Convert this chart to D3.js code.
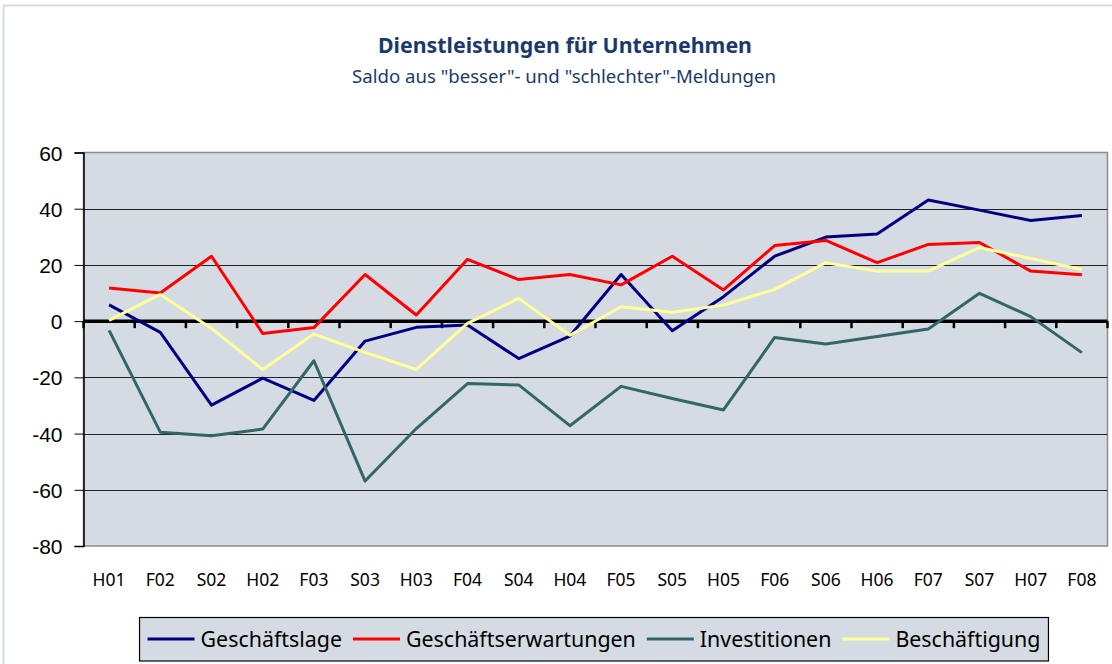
<!DOCTYPE html>
<html>
<head>
<meta charset="utf-8">
<script src="https://cdnjs.cloudflare.com/ajax/libs/d3/7.8.5/d3.min.js"></script>
<style>
  body { margin: 0; background: #fff; }
  svg { display: block; }
</style>
</head>
<body>
<script>
// categories (half-year survey waves)
let periods = ['H01','F02','S02','H02','F03','S03','H03','F04','S04','H04',
               'F05','S05','H05','F06','S06','H06','F07','S07','H07','F08'];

let geschaeftslage = [5.8, -4.0, -29.9, -20.3, -28.2, -7.1, -2.2, -1.4, -13.3, -5.3,
                      16.6, -3.4, 8.7, 23.1, 29.9, 31.0, 43.1, 39.5, 35.8, 37.6];
let erwartungen    = [11.8, 10.0, 23.1, -4.4, -2.3, 16.6, 2.2, 22.0, 14.8, 16.6,
                      12.9, 23.1, 11.1, 26.9, 28.7, 20.8, 27.3, 28.0, 17.8, 16.5];
let investitionen  = [-3.3, -39.5, -40.8, -38.4, -14.1, -56.9, -38.2, -22.2, -22.7, -37.2,
                      -23.2, -27.5, -31.6, -5.8, -8.1, -5.5, -2.8, 9.9, 1.6, -11.2];
let beschaeftigung = [0.3, 9.5, -2.6, -17.2, -4.6, -11.1, -17.2, -0.8, 8.1, -5.0,
                      5.1, 3.2, 5.7, 11.3, 20.8, 17.8, 17.8, 26.2, 22.3, 18.4];

let seriesNames  = ['Geschäftslage', 'Geschäftserwartungen', 'Investitionen', 'Beschäftigung'];
let seriesColors = ['#000080', '#ff0000', '#336666', '#ffff99'];
let yTicks = [60, 40, 20, 0, -20, -40, -60, -80];

let width = 1112, height = 664;
let plotLeft = 83.5, plotRight = 1107.5, plotTop = 152.5, plotBottom = 546;

let series = [geschaeftslage, erwartungen, investitionen, beschaeftigung].map((vals, i) => {
  return { name: seriesNames[i], color: seriesColors[i], values: vals };
});

let svg = d3.select('body').append('svg')
  .attr('width', width)
  .attr('height', height);

// outer chart frame
svg.append('rect')
  .attr('x', 3.5).attr('y', 5.5)
  .attr('width', width + 10).attr('height', height + 10)
  .attr('fill', 'none')
  .attr('stroke', '#d5dbe5')
  .attr('stroke-width', 2);

// titles (condensed look via textLength)
svg.append('text')
  .attr('x', 565).attr('y', 53)
  .attr('text-anchor', 'middle')
  .attr('font-family', '"Noto Sans", sans-serif')
  .attr('font-weight', 'bold')
  .attr('font-size', 22)
  .attr('textLength', 374)
  .attr('lengthAdjust', 'spacingAndGlyphs')
  .attr('fill', '#1b3a6b')
  .text('Dienstleistungen für Unternehmen');

svg.append('text')
  .attr('x', 564).attr('y', 83)
  .attr('text-anchor', 'middle')
  .attr('font-family', '"Noto Sans", sans-serif')
  .attr('font-size', 17.5)
  .attr('textLength', 424)
  .attr('lengthAdjust', 'spacingAndGlyphs')
  .attr('fill', '#1b3a6b')
  .text('Saldo aus "besser"- und "schlechter"-Meldungen');

let x = d3.scaleBand()
  .domain(periods)
  .range([plotLeft, plotRight]);

let y = d3.scaleLinear()
  .domain([-80, 60])
  .range([plotBottom, plotTop]);

// plot area
svg.append('rect')
  .attr('x', plotLeft).attr('y', plotTop)
  .attr('width', plotRight - plotLeft).attr('height', plotBottom - plotTop)
  .attr('fill', '#d4dbe3')
  .attr('stroke', '#8c8c8c')
  .attr('stroke-width', 1.5);

// gridlines
svg.append('g')
  .selectAll('line')
  .data(yTicks.filter(t => t !== 0 && t !== 60 && t !== -80))
  .enter()
  .append('line')
  .attr('x1', plotLeft).attr('x2', plotRight)
  .attr('y1', d => Math.round(y(d)) + 0.5)
  .attr('y2', d => Math.round(y(d)) + 0.5)
  .attr('stroke', '#222')
  .attr('stroke-width', 1);

// y axis
let yAxis = d3.axisLeft(y)
  .tickValues(yTicks)
  .tickSize(9)
  .tickPadding(12)
  .tickFormat(d3.format('d'));

let yg = svg.append('g')
  .attr('transform', 'translate(' + plotLeft + ',0)')
  .call(yAxis);
yg.select('.domain').attr('stroke', '#000').attr('stroke-width', 1.5);
yg.selectAll('.tick line').attr('stroke', '#000');
yg.selectAll('.tick text')
  .attr('font-family', '"Liberation Sans", Arial, sans-serif')
  .attr('font-size', 21)
  .attr('fill', '#000')
  .attr('dy', '0.36em')
  .text(d => d < 0 ? '-' + Math.abs(d) : d);

// category labels
svg.append('g')
  .selectAll('text')
  .data(periods)
  .enter()
  .append('text')
  .attr('x', d => x(d) + x.bandwidth() / 2)
  .attr('y', 586)
  .attr('text-anchor', 'middle')
  .attr('font-family', '"Noto Sans", "Open Sans", sans-serif')
  .attr('font-size', 17.5)
  .attr('fill', '#000')
  .text(d => d);

// zero line with tick marks at band edges
let zeroY = y(0);
let edges = periods.map(p => x(p)).concat([plotRight]);
svg.append('g')
  .selectAll('line')
  .data(edges)
  .enter()
  .append('line')
  .attr('x1', d => d).attr('x2', d => d)
  .attr('y1', zeroY).attr('y2', zeroY + 7)
  .attr('stroke', '#000')
  .attr('stroke-width', 2.5);

svg.append('line')
  .attr('x1', plotLeft).attr('x2', plotRight)
  .attr('y1', zeroY).attr('y2', zeroY)
  .attr('stroke', '#000')
  .attr('stroke-width', 3.5);

// series lines
let line = d3.line()
  .x((d, i) => x(periods[i]) + x.bandwidth() / 2)
  .y(d => y(d));

svg.append('g')
  .selectAll('path')
  .data(series)
  .enter()
  .append('path')
  .attr('d', d => line(d.values))
  .attr('fill', 'none')
  .attr('stroke', d => d.color)
  .attr('stroke-width', 3)
  .attr('stroke-linejoin', 'round');

// legend
let legend = svg.append('g');
let legendBox = legend.append('rect')
  .attr('fill', '#d4dbe3')
  .attr('stroke', '#000')
  .attr('stroke-width', 1.2);

let lx = 0;
let items = [];
series.forEach((s, i) => {
  let g = legend.append('g');
  g.append('line')
    .attr('x1', lx).attr('x2', lx + 47)
    .attr('y1', 639).attr('y2', 639)
    .attr('stroke', s.color)
    .attr('stroke-width', 3);
  let t = g.append('text')
    .attr('x', lx + 53)
    .attr('y', 646.5)
    .attr('font-family', '"Noto Sans", "Open Sans", sans-serif')
    .attr('font-size', 21.4)
    .attr('fill', '#000')
    .text(s.name);
  lx += 53 + t.node().getComputedTextLength() + 11;
  items.push(g);
});
let totalW = lx - 11;
let startX = 594 - totalW / 2;
items.forEach(g => g.attr('transform', 'translate(' + startX + ',0)'));
legendBox
  .attr('x', startX - 8).attr('y', 617.5)
  .attr('width', totalW + 16).attr('height', 43.5);
</script>
</body>
</html>
